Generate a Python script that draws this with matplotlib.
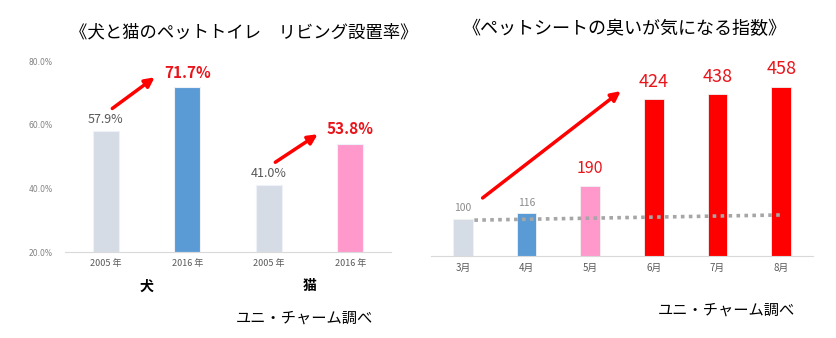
import matplotlib
import matplotlib.pyplot as plt

matplotlib.use('Agg')

plt.rcParams['font.family'] = ['Noto Sans CJK JP', 'DejaVu Sans']

# 左: 犬と猫のペットトイレ リビング設置率
left_title = '《犬と猫のペットトイレ\u3000リビング設置率》'
left_years = ['2005 年', '2016 年', '2005 年', '2016 年']
left_groups = ['犬', '猫']
left_values = [57.9, 71.7, 41.0, 53.8]
left_colors = ['#D6DCE5', '#5B9BD5', '#D6DCE5', '#FF99CC']
left_yticks = [20, 40, 60, 80]

# 右: ペットシートの臭いが気になる指数
right_title = '《ペットシートの臭いが気になる指数》'
right_months = ['3月', '4月', '5月', '6月', '7月', '8月']
right_values = [100, 116, 190, 424, 438, 458]
right_colors = ['#D6DCE5', '#5B9BD5', '#FF99CC', '#FF0000', '#FF0000', '#FF0000']
right_trend = [97, 111]   # 点線(傾向線)の始点と終点

source = 'ユニ・チャーム調べ'
gray = '#595959'
red_txt = '#E8151B'

fig = plt.figure(figsize=(8.37, 3.38), dpi=100)

# ---------------- 左グラフ ----------------
ax1 = fig.add_axes([0.0777, 0.2544, 0.3895, 0.565])
x1 = range(len(left_values))
ax1.bar(x1, [v - 20 for v in left_values], bottom=20, width=0.32,
        color=left_colors, edgecolor='#EEF2F8', linewidth=0.8)
ax1.set_xlim(-0.5, 3.5)
ax1.set_ylim(20, 80)
ax1.set_yticks(left_yticks)
ax1.set_yticklabels([f'{t:.1f}%' for t in left_yticks], fontsize=5.5, color='#7F7F7F',
                    family=['DejaVu Sans'])
ax1.tick_params(axis='y', length=0, pad=9)
ax1.set_xticks(list(x1))
ax1.set_xticklabels(left_years, fontsize=6.5, color=gray)
ax1.tick_params(axis='x', length=0, pad=5)
for s in ['top', 'right', 'left']:
    ax1.spines[s].set_visible(False)
ax1.spines['bottom'].set_color('#D9D9D9')

for i, v in enumerate(left_values):
    if i % 2 == 0:
        ax1.annotate(f'{v:.1f}%', (i, v), xytext=(0, 4), textcoords='offset points',
                     ha='center', va='bottom', fontsize=9, color=gray)
    else:
        ax1.annotate(f'{v:.1f}%', (i, v), xytext=(0, 5), textcoords='offset points',
                     ha='center', va='bottom', fontsize=11, color=red_txt, fontweight='bold')

# 増加の矢印
for g in range(2):
    a, b = left_values[2 * g], left_values[2 * g + 1]
    ax1.annotate('', xy=(2 * g + 0.6, b + 3.2), xytext=(2 * g + 0.08, a + 7.2),
                 arrowprops=dict(arrowstyle='-|>', color='#FF0000', lw=2.5,
                                 mutation_scale=14, shrinkA=0, shrinkB=0))

for g, name in enumerate(left_groups):
    ax1.text(2 * g + 0.5, -0.18, name, transform=ax1.get_xaxis_transform(),
             ha='center', va='center', fontsize=10, fontweight='bold')

fig.text(0.2915, 0.905, left_title, ha='center', va='center', fontsize=12.5)
fig.text(0.3635, 0.06, source, ha='center', va='center', fontsize=11)

# ---------------- 右グラフ ----------------
ax2 = fig.add_axes([0.515, 0.2426, 0.4564, 0.547])
x2 = range(len(right_values))
ax2.bar(x2, right_values, width=0.31, color=right_colors,
        edgecolor='#F2F2F2', linewidth=0.6, zorder=2)
ax2.set_xlim(-0.5, 5.5)
ax2.set_ylim(0, 500)
ax2.set_yticks([])
ax2.set_xticks(list(x2))
ax2.set_xticklabels(right_months, fontsize=7, color=gray)
ax2.tick_params(axis='x', length=0, pad=5)
for s in ['top', 'right', 'left']:
    ax2.spines[s].set_visible(False)
ax2.spines['bottom'].set_color('#D9D9D9')

ax2.plot([0.18, 5.0], right_trend, linestyle=(0, (1, 1.2)), color='#A6A6A6', lw=2.6,
         zorder=4)

for i, v in enumerate(right_values):
    if i < 2:
        ax2.annotate(str(v), (i, v), xytext=(0, 4), textcoords='offset points',
                     ha='center', va='bottom', fontsize=7.5, color='#8C8C8C')
    elif i == 2:
        ax2.annotate(str(v), (i, v), xytext=(0, 6), textcoords='offset points',
                     ha='center', va='bottom', fontsize=11.5, color=red_txt)
    else:
        ax2.annotate(str(v), (i, v), xytext=(0, 6), textcoords='offset points',
                     ha='center', va='bottom', fontsize=13, color=red_txt)

ax2.annotate('', xy=(2.48, right_values[3] + 22), xytext=(0.31, right_values[0] + 57),
             arrowprops=dict(arrowstyle='-|>', color='#FF0000', lw=2.5,
                             mutation_scale=14, shrinkA=0, shrinkB=0))

fig.text(0.746, 0.915, right_title, ha='center', va='center', fontsize=13)
fig.text(0.868, 0.083, source, ha='center', va='center', fontsize=11)

plt.savefig('out.png', dpi=100)
